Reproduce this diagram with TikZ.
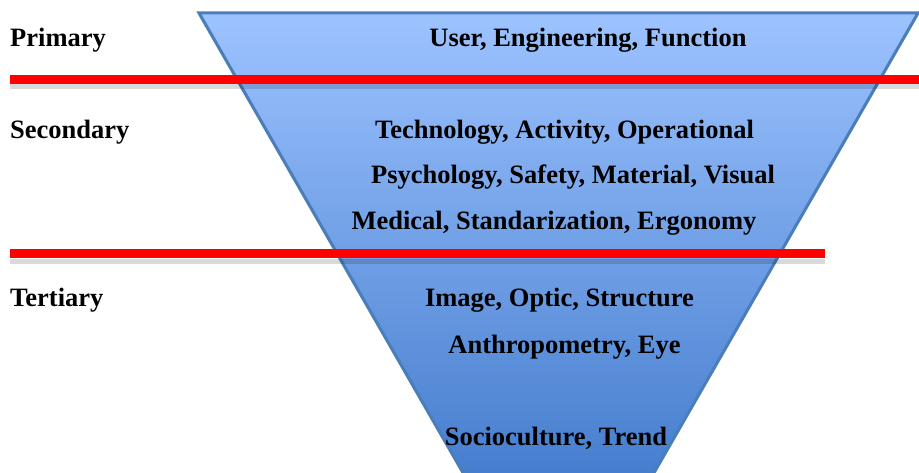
\documentclass[tikz,border=0pt]{standalone}
\usepackage{fontspec}
\setmainfont{Liberation Serif}[BoldFont={Liberation Serif Bold}]
\newfontfamily\tnrb{Liberation Serif Bold}
\begin{document}
\begin{tikzpicture}[x=1pt,y=-1pt,
  lbl/.style={font=\tnrb\fontsize{26.5}{30}\selectfont, inner sep=0pt, anchor=base},
  side/.style={lbl, anchor=base west},
  redline/.style={draw=red, line width=9pt},
  redshadow/.style={draw=black, opacity=0.15, line width=5pt}]
\definecolor{topblue}{RGB}{157,195,255}
\definecolor{botblue}{RGB}{70,126,206}
\definecolor{edgeblue}{RGB}{74,126,187}
\useasboundingbox (0,0) rectangle (919,473);
\clip (0,0) rectangle (919,473);
% shadow of triangle
\fill[black!20] (199,16) -- (918,16) -- (558.5,642) -- cycle;
% triangle body
\begin{scope}
  \clip (199,13) -- (918,13) -- (558.5,639) -- cycle;
  \shade[top color=topblue, bottom color=botblue] (190,13) rectangle (925,475);
\end{scope}
\draw[edgeblue, line width=3pt, line join=miter] (199,13) -- (918,13) -- (558.5,639) -- cycle;
% red lines with shadows
\coordinate (r1a) at (10,86.5);
\coordinate (r1b) at (919,86.5);
\coordinate (r2a) at (10,261.5);
\coordinate (r2b) at (825,261.5);
\draw[redshadow] (r1a) -- (r1b);
\draw[redshadow] (r2a) -- (r2b);
\coordinate (R1a) at (10,79.5);
\coordinate (R1b) at (919,79.5);
\coordinate (R2a) at (10,254);
\coordinate (R2b) at (825,254);
\draw[redline] (R1a) -- (R1b);
\draw[redline] (R2a) -- (R2b);
% side labels
\node[side] (prim) at (10,47) {Primary};
\node[side] (sec) at (10,139) {Secondary};
\node[side] (ter) at (10,307) {Tertiary};
% inner labels
\node[lbl] (t1) at (588,47) {User, Engineering, Function};
\node[lbl] (t2) at (564.5,139) {Technology, Activity, Operational};
\node[lbl] (t3) at (573,184) {Psychology, Safety, Material, Visual};
\node[lbl] (t4) at (554,230) {Medical, Standarization, Ergonomy};
\node[lbl] (t5) at (559.5,307) {Image, Optic, Structure};
\node[lbl] (t6) at (564.5,353) {Anthropometry, Eye};
\node[lbl] (t7) at (556,445) {Socioculture, Trend};
\end{tikzpicture}
\end{document}
